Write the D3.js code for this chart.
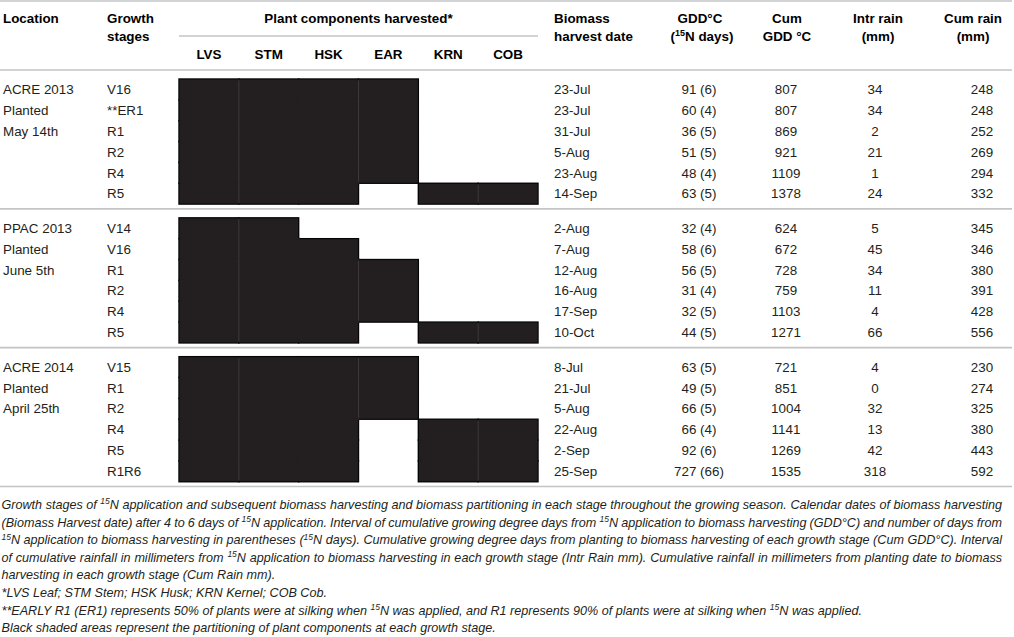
<!DOCTYPE html>
<html><head><meta charset="utf-8">
<script src="https://cdn.jsdelivr.net/npm/d3@7"></script>
<style>body{margin:0;background:#fff}svg{display:block}</style>
</head><body>
<svg id="c" width="1014" height="637"></svg>
<script>
// ---------------- data ----------------
const components = ["LVS","STM","HSK","EAR","KRN","COB"];
const locations = ["ACRE 2013","PPAC 2013","ACRE 2014"];
const plantedNotes = [["Planted","May 14th"],["Planted","June 5th"],["Planted","April 25th"]];
const stages = [
  ["V16","**ER1","R1","R2","R4","R5"],
  ["V14","V16","R1","R2","R4","R5"],
  ["V15","R1","R2","R4","R5","R1R6"]
];
const harvested = [
  [["LVS","STM","HSK","EAR"],["LVS","STM","HSK","EAR"],["LVS","STM","HSK","EAR"],["LVS","STM","HSK","EAR"],["LVS","STM","HSK","EAR"],["LVS","STM","HSK","KRN","COB"]],
  [["LVS","STM"],["LVS","STM","HSK"],["LVS","STM","HSK","EAR"],["LVS","STM","HSK","EAR"],["LVS","STM","HSK","EAR"],["LVS","STM","HSK","KRN","COB"]],
  [["LVS","STM","HSK","EAR"],["LVS","STM","HSK","EAR"],["LVS","STM","HSK","EAR"],["LVS","STM","HSK","KRN","COB"],["LVS","STM","HSK","KRN","COB"],["LVS","STM","HSK","KRN","COB"]]
];
const harvestDates = [
  ["23-Jul","23-Jul","31-Jul","5-Aug","23-Aug","14-Sep"],
  ["2-Aug","7-Aug","12-Aug","16-Aug","17-Sep","10-Oct"],
  ["8-Jul","21-Jul","5-Aug","22-Aug","2-Sep","25-Sep"]
];
const gdd = [[91,60,36,51,48,63],[32,58,56,31,32,44],[63,49,66,66,92,727]];
const n15Days = [[6,4,5,5,4,5],[4,6,5,4,5,5],[5,5,5,4,6,66]];
const cumGdd = [[807,807,869,921,1109,1378],[624,672,728,759,1103,1271],[721,851,1004,1141,1269,1535]];
const intrRain = [[34,34,2,21,1,24],[5,45,34,11,4,66],[4,0,32,13,42,318]];
const cumRain = [[248,248,252,269,294,332],[345,346,380,391,428,556],[230,274,325,380,443,592]];
const captionLines = [
  "Growth stages of {15}N application and subsequent biomass harvesting and biomass partitioning in each stage throughout the growing season. Calendar dates of biomass harvesting",
  "(Biomass Harvest date) after 4 to 6 days of {15}N application. Interval of cumulative growing degree days from {15}N application to biomass harvesting (GDD°C) and number of days from",
  "{15}N application to biomass harvesting in parentheses ({15}N days). Cumulative growing degree days from planting to biomass harvesting of each growth stage (Cum GDD°C). Interval",
  "of cumulative rainfall in millimeters from {15}N application to biomass harvesting in each growth stage (Intr Rain mm). Cumulative rainfall in millimeters from planting date to biomass",
  "harvesting in each growth stage (Cum Rain mm).",
  "*LVS Leaf; STM Stem; HSK Husk; KRN Kernel; COB Cob.",
  "**EARLY R1 (ER1) represents 50% of plants were at silking when {15}N was applied, and R1 represents 90% of plants were at silking when {15}N was applied.",
  "Black shaded areas represent the partitioning of plant components at each growth stage."
];
const justifiedLines = [true,true,true,true,false,false,false,false];

// ---------------- layout ----------------
const FONT = "'Liberation Sans', Arial, Helvetica, sans-serif";
const TXT = "#231f20", CELL = "#231f20", RULE = "#c3c4c6";
const svg = d3.select("#c").style("font-family", FONT);

const x = d3.scaleBand().domain(components).range([179, 538]);
const sectionY = d3.scaleLinear().domain([0, 3]).range([70, 486.5]);
const rowY = d3.scaleLinear().domain([0, 6]).range([9, 134.1]);
const rowH = rowY(1) - rowY(0);
const rowTop = (s, r) => sectionY(s) + rowY(r);
const rowMid = (s, r) => rowTop(s, r) + rowH / 2;
const colX = {loc: 3, stage: 107, date: 554, gdd: 699, cum: 786, intr: 875, cumRain: 982};
const headX = {gdd: 700, cum: 787, intr: 878, cumRain: 973};

// rules
const rules = [
  {x1: 0, x2: 1012, y: 1},
  {x1: 179, x2: 538, y: 36},
  {x1: 0, x2: 1012, y: sectionY(0)},
  {x1: 0, x2: 1012, y: sectionY(1)},
  {x1: 0, x2: 1012, y: sectionY(2)},
  {x1: 0, x2: 1012, y: sectionY(3)}
];
svg.append("g").selectAll("line").data(rules).join("line")
  .attr("x1", d => d.x1).attr("x2", d => d.x2).attr("y1", d => d.y).attr("y2", d => d.y)
  .attr("stroke", RULE).attr("stroke-width", 1.6);

// headers
const head = svg.append("g").attr("fill", "#000").attr("font-weight", "bold").attr("font-size", 13.4);
function htext(t, xx, yy, anchor) {
  return head.append("text").attr("x", xx).attr("y", yy).attr("dy", "0.35em").attr("text-anchor", anchor || "start").text(t);
}
htext("Location", colX.loc, 18.3);
htext("Growth", colX.stage, 18.3);
htext("stages", colX.stage, 36.8);
htext("Plant components harvested*", (x.range()[0] + x.range()[1]) / 2, 18.3, "middle");
head.append("g").selectAll("text").data(components).join("text")
  .attr("x", d => x(d) + x.bandwidth() / 2).attr("y", 54).attr("dy", "0.35em")
  .attr("text-anchor", "middle").text(d => d);
htext("Biomass", colX.date, 18.3);
htext("harvest date", colX.date, 36.5);
htext("GDD°C", headX.gdd, 18.3, "middle");
const nd = head.append("text").attr("x", headX.gdd + 2).attr("y", 36.5).attr("dy", "0.35em").attr("text-anchor", "middle");
nd.append("tspan").text("(");
nd.append("tspan").attr("font-size", 9).attr("dy", -5).text("15");
nd.append("tspan").attr("dy", 5).text("N days)");
htext("Cum", headX.cum, 18.3, "middle");
htext("GDD °C", headX.cum, 36.5, "middle");
htext("Intr rain", headX.intr, 18.3, "middle");
htext("(mm)", headX.intr, 36.5, "middle");
htext("Cum rain", headX.cumRain, 18.3, "middle");
htext("(mm)", headX.cumRain, 36.5, "middle");

// cells
const cells = [];
harvested.forEach((sec, s) => sec.forEach((comps, r) => comps.forEach(c => cells.push({s, r, c}))));
const isOn = (s, r, c) => r >= 0 && r < 6 && c && harvested[s][r].includes(c);
const ci = c => components.indexOf(c);
const cellG = svg.append("g");
cellG.selectAll("rect.o").data(cells).join("rect").attr("class", "o")
  .attr("x", d => x(d.c)).attr("y", d => rowTop(d.s, d.r))
  .attr("width", x.bandwidth()).attr("height", rowH)
  .attr("fill", CELL).attr("stroke", "#050505").attr("stroke-width", 1.4);
cellG.selectAll("rect.i").data(cells).join("rect").attr("class", "i")
  .each(function(d) {
    const L = isOn(d.s, d.r, components[ci(d.c) - 1]) ? -1 : 0.7;
    const R = isOn(d.s, d.r, components[ci(d.c) + 1]) ? -1 : 0.7;
    const T = isOn(d.s, d.r - 1, d.c) ? -1 : 0.7;
    const B = isOn(d.s, d.r + 1, d.c) ? -1 : 0.7;
    d3.select(this).attr("x", x(d.c) + L).attr("y", rowTop(d.s, d.r) + T)
      .attr("width", x.bandwidth() - L - R).attr("height", rowH - T - B);
  }).attr("fill", CELL);
// faint seams between paired columns
const seams = cells.filter(d => ["STM","EAR","COB"].includes(d.c) && isOn(d.s, d.r, components[ci(d.c) - 1]));
cellG.selectAll("line").data(seams).join("line")
  .attr("x1", d => x(d.c)).attr("x2", d => x(d.c))
  .attr("y1", d => rowTop(d.s, d.r) + (isOn(d.s, d.r - 1, d.c) ? 0 : 1.5))
  .attr("y2", d => rowTop(d.s, d.r) + rowH - (isOn(d.s, d.r + 1, d.c) ? 0 : 1.5))
  .attr("stroke", "#3d393a").attr("stroke-width", 1);

// body text
const body = svg.append("g").attr("fill", TXT).attr("font-size", 13.4);
const rows = [];
stages.forEach((sec, s) => sec.forEach((st, r) => rows.push({s, r, st})));
body.append("g").selectAll("text").data(locations.flatMap((l, s) => [l, ...plantedNotes[s]].map((t, r) => ({t, s, r}))))
  .join("text").attr("x", colX.loc).attr("y", d => rowMid(d.s, d.r)).attr("dy", "0.35em").text(d => d.t);
function col(key, fn, anchor) {
  body.append("g").selectAll("text").data(rows).join("text")
    .attr("x", colX[key]).attr("y", d => rowMid(d.s, d.r)).attr("dy", "0.35em")
    .attr("text-anchor", anchor).text(fn);
}
col("stage", d => d.st, "start");
col("date", d => harvestDates[d.s][d.r], "start");
col("gdd", d => `${gdd[d.s][d.r]} (${n15Days[d.s][d.r]})`, "middle");
col("cum", d => cumGdd[d.s][d.r], "middle");
col("intr", d => intrRain[d.s][d.r], "middle");
col("cumRain", d => cumRain[d.s][d.r], "middle");

// caption
const capY = d3.scaleLinear().domain([0, 7]).range([504.5, 628]);
const capLeft = 1.5, capRight = 1002;
const cap = svg.append("g").attr("fill", TXT).attr("font-size", 12.6).attr("font-style", "italic");
captionLines.forEach((line, i) => {
  const t = cap.append("text").attr("x", capLeft).attr("y", capY(i) + 4.4);
  const parts = line.split(/(\{15\})/);
  let raised = false;
  parts.forEach(p => {
    if (p === "") return;
    if (p === "{15}") {
      t.append("tspan").attr("font-size", 8.5).attr("dy", raised ? 0 : -4.6).text("15");
      raised = true;
    } else {
      t.append("tspan").attr("dy", raised ? 4.6 : 0).text(p);
      raised = false;
    }
  });
  if (justifiedLines[i]) {
    const w = t.node().getComputedTextLength();
    const spaces = (line.match(/ /g) || []).length;
    t.style("word-spacing", ((capRight - capLeft - w) / spaces) + "px");
  }
});
</script>
</body></html>
